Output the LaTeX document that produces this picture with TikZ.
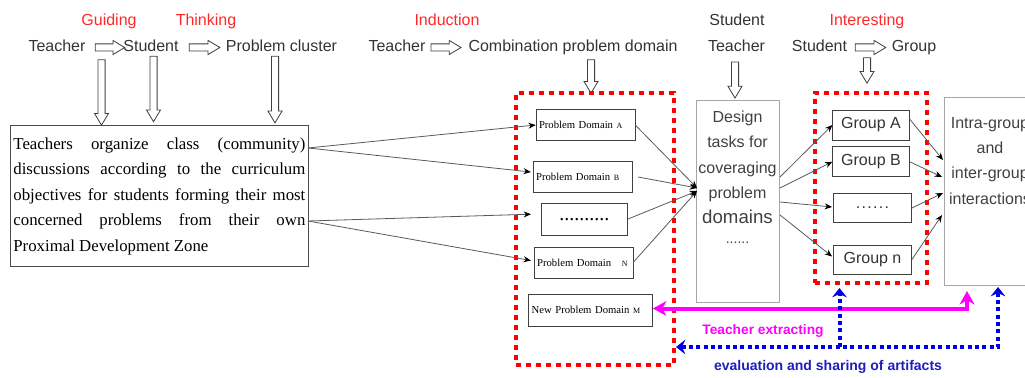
\documentclass[tikz,border=0pt]{standalone}
\usepackage{fontspec}
\setmainfont{Liberation Serif}
\setsansfont{Liberation Sans}
\usetikzlibrary{arrows.meta,shapes.arrows,calc,positioning}
\definecolor{stagered}{RGB}{255,40,40}
\definecolor{extractpink}{RGB}{255,0,255}
\definecolor{evalblue}{RGB}{0,0,230}
\definecolor{evaltext}{RGB}{30,30,190}
\newcommand{\dlabel}[1]{{\fontsize{6}{7}\selectfont #1}}
\newcommand{\gdots}{.\kern1pt.\kern1pt.\kern1pt.\kern1pt.\kern1pt.}
\tikzstyle{actor} = [font=\sffamily\fontsize{12}{14}\selectfont, text=black!80, inner sep=0pt, anchor=base]
\tikzstyle{stage} = [actor, text=stagered]
\tikzstyle{hollow} = [single arrow, draw=black!75, fill=white, line width=0.6pt, inner sep=2.4pt, single arrow head extend=2.6pt, single arrow tip angle=62, minimum width=0pt]
\tikzstyle{hollowdown} = [hollow, shape border rotate=270]
\tikzstyle{probbox} = [rectangle, draw=black!75, font=\fontsize{8}{9.6}\selectfont, inner xsep=2.25pt, align=left, minimum height=23pt]
\tikzstyle{groupbox} = [rectangle, draw=black!75, font=\sffamily\fontsize{12}{14}\selectfont, text=black!80, minimum width=57.5pt, minimum height=22.5pt, inner sep=0pt]
\tikzstyle{panel} = [rectangle, draw=black!35, line width=0.6pt, inner sep=0pt]
\tikzstyle{paneltext} = [font=\sffamily\fontsize{12}{19}\selectfont, text=black!75, align=center, inner sep=0pt, anchor=north]
\tikzstyle{redframe} = [rectangle, draw=red, line width=3.4pt, dash pattern=on 3.6pt off 3.9pt, inner sep=0pt]
\tikzstyle{connector} = [draw=black!65, line width=0.6pt, -{Stealth[length=5.5pt, width=4.5pt, color=black]}]
\tikzstyle{extracting} = [draw=extractpink, line width=3pt, {Stealth[length=10pt, width=11pt, inset=3pt]}-{Stealth[length=10pt, width=11pt, inset=3pt]}]
\tikzstyle{evaluation} = [draw=evalblue, line width=3pt, dash pattern=on 3pt off 2.5pt]
\begin{document}
\begin{tikzpicture}[x=0.75pt, y=-0.75pt]
\useasboundingbox (0,0) rectangle (1025,378);
\clip (0,0) rectangle (1025,378);

% stage words and actors
\node (guide) [stage] at (109,25.5) {Guiding};
\node (think) [stage] at (206,25.5) {Thinking};
\node (induct) [stage] at (447,25.5) {Induction};
\node (interest) [stage] at (867,25.5) {Interesting};
\node (stu3) [actor] at (737,25.5) {Student};

\node (tea1) [actor] at (57,51.5) {Teacher};
\node (stu1) [actor] at (151,51.5) {Student};
\node (cluster) [actor] at (281.5,51.5) {Problem cluster};
\node (tea2) [actor] at (397,51.5) {Teacher};
\node (combine) [actor] at (573,51.5) {Combination problem domain};
\node (tea3) [actor] at (736.5,51.5) {Teacher};
\node (stu4) [actor] at (819.5,51.5) {Student};
\node (grp) [actor] at (914,51.5) {Group};

\node (ha1) [hollow, minimum height=22pt] at (107,47.5) {};
\node (ha2) [hollow, minimum height=23pt] at (201.5,47.5) {};
\node (ha3) [hollow, minimum height=22.5pt] at (443,47.5) {};
\node (ha4) [hollow, minimum height=23pt] at (867.5,47.5) {};

\node (hv1) [hollowdown, minimum height=49pt] at (101.5,89.5) {};
\node (hv2) [hollowdown, minimum height=49pt] at (153.5,86) {};
\node (hv3) [hollowdown, minimum height=50pt] at (275,86.5) {};
\node (hv4) [hollowdown, minimum height=25pt] at (591,73.5) {};
\node (hv5) [hollowdown, minimum height=27pt] at (735,77) {};
\node (hv6) [hollowdown, minimum height=19pt] at (867,67.5) {};

% left box
\node (main) [rectangle, draw=black!70, line width=0.6pt, anchor=north west, text width=219pt, inner xsep=2.25pt, minimum height=106pt, align=justify, font=\fontsize{12.6}{19.1}\selectfont] at (10,125) {Teachers organize class (community)\linebreak discussions according to the curriculum\linebreak objectives for students forming their most\linebreak concerned problems from their own\linebreak Proximal Development Zone};

% problem domains
\node (domains) [redframe, minimum width=118.5pt, minimum height=204pt] at (595,229) {};
\node (pa) [probbox, text width=69.75pt] at (585.5,125) {Problem Domain \dlabel{A}};
\node (pb) [probbox, text width=69.5pt] at (582.5,177) {Problem Domain \dlabel{B}};
\node (pd) [probbox, minimum width=64.5pt, minimum height=23.8pt, align=center, font=\fontsize{15}{15}\selectfont] at (584.3,219.2) {..........};
\node (pn) [probbox, text width=69.5pt] at (583.5,262.5) {Problem Domain\quad\dlabel{N}};
\node (pm) [probbox, text width=88.5pt, minimum height=24.5pt] at (590.7,310.3) {New Problem Domain \dlabel{M}};

% task design
\node (design) [panel, minimum width=62.25pt, minimum height=151.5pt] at (737.5,201.5) {};
\node (designtxt) [paneltext] at (737.5,110.5) {Design\\tasks for\\coveraging\\problem\\{\fontsize{14}{19}\selectfont domains}\\[-4pt]{\fontsize{10.5}{12}\selectfont ......}};

% groups
\node (groups) [redframe, minimum width=84pt, minimum height=142.5pt] at (871,188) {};
\node (ga) [groupbox] at (871,125) {Group A};
\node (gb) [groupbox] at (871,161.7) {Group B};
\node (gd) [groupbox, minimum width=58.75pt, minimum height=22pt] at (872.5,208) {\gdots};
\node (gn) [groupbox, minimum width=58.75pt, minimum height=22pt] at (872.5,259.5) {Group n};

% interactions
\node (inter) [panel, minimum width=69pt, minimum height=141pt] at (990,191.2) {};
\node (intertxt) [paneltext] at (990,117) {Intra-group\\and\\inter-group\\interactions};

\coordinate (mainA) at (308,148);
\coordinate (mainB) at (308,221);
\coordinate (dIn) at (697,188);
\coordinate (dOutA) at (780,177);
\coordinate (dOutB) at (780,188);
\coordinate (dOutC) at (780,202);
\coordinate (dOutD) at (780,215);
\coordinate (r1) at (943,160);
\coordinate (r2) at (942,177);
\coordinate (r3) at (943,193);
\coordinate (r4) at (942,215);
\coordinate (mUp) at (967,291);
\coordinate (bUpM) at (839.5,288);
\coordinate (bUpR) at (998,287);
\coordinate (bLeft) at (676,347);

\draw [connector] (mainA) -- (pa.west);
\draw [connector] (mainA) -- ($(pb.west)+(-2,-5)$);
\draw [connector] (mainB) -- ($(pd.west)+(-10,-5)$);
\draw [connector] (mainB) -- ($(pn.west)+(-3,-2)$);

\draw [connector] (pa.east) -- (dIn);
\draw [connector] ($(pb.east)+(6,0)$) -- (dIn);
\draw [connector] (pd.east) -- ($(dIn)+(0,3)$);
\draw [connector] (pn.east) -- ($(dIn)+(0,3)$);

\draw [connector] (dOutA) -- (ga.west);
\draw [connector] (dOutB) -- (gb.west);
\draw [connector] (dOutC) -- ($(gd.west)+(-1,-1)$);
\draw [connector] (dOutD) -- ($(gn.west)+(-1,-3)$);

\draw [connector] ($(ga.east)+(0,-6)$) -- (r1);
\draw [connector] (gb.east) -- (r2);
\draw [connector] (gd.east) -- (r3);
\draw [connector] (gn.east) -- (r4);

% feedback
\draw [extracting] (pm.east |- 0,308.5) -| (mUp);
\node (extract) [font=\sffamily\bfseries\fontsize{10.3}{12}\selectfont, text=extractpink] at (763,331) {Teacher extracting};

\draw [evaluation, -{Stealth[length=7pt, width=11pt, inset=2.5pt]}] (bUpM |- bLeft) -- (bUpM);
\draw [evaluation, {Stealth[length=7pt, width=11pt, inset=2.5pt]}-{Stealth[length=7pt, width=11pt, inset=2.5pt]}] (bLeft) -| (bUpR);
\node (evaluate) [font=\sffamily\bfseries\fontsize{10.5}{12}\selectfont, text=evaltext] at (828,367) {evaluation and sharing of artifacts};
\end{tikzpicture}
\end{document}
